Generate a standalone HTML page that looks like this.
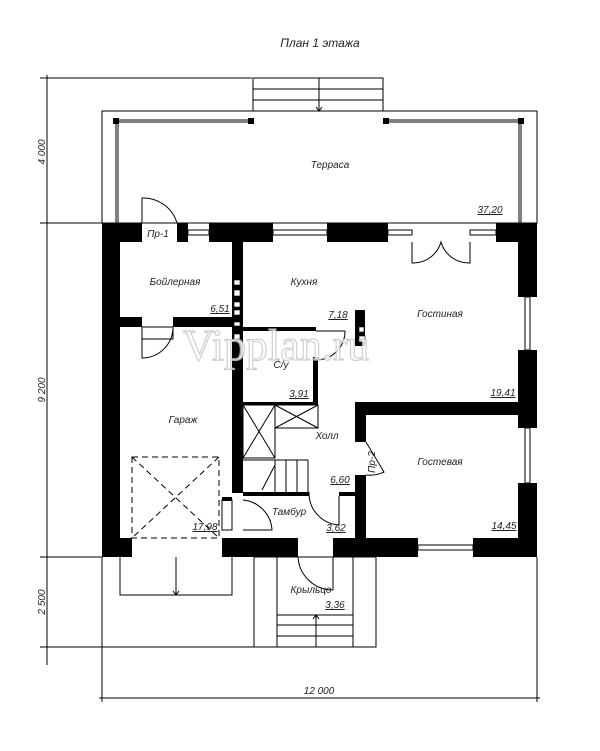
<!DOCTYPE html>
<html><head><meta charset="utf-8"><style>
html,body{margin:0;padding:0;background:#fff}
svg{display:block}
text{font-family:"Liberation Sans",sans-serif;font-style:italic;font-size:10px;fill:#222}
</style></head><body>
<svg width="600" height="751" viewBox="0 0 600 751" xmlns="http://www.w3.org/2000/svg">
<text x="320" y="47" text-anchor="middle" style="font-size:12px">План 1 этажа</text>
<g stroke="#000" stroke-width="1" fill="none">
<line x1="47" y1="75" x2="47" y2="665"/>
<line x1="40" y1="78" x2="252" y2="78"/>
<line x1="40" y1="223" x2="102" y2="223"/>
<line x1="40" y1="557" x2="102" y2="557"/>
<line x1="40" y1="647" x2="254" y2="647"/>
<line x1="99" y1="698" x2="540" y2="698"/>
<line x1="102" y1="557" x2="102" y2="702"/>
<line x1="537" y1="557" x2="537" y2="702"/>
<line x1="102" y1="111" x2="102" y2="223"/>
<line x1="537" y1="111" x2="537" y2="223"/>
</g>
<text transform="translate(45,152) rotate(-90)" text-anchor="middle">4 000</text>
<text transform="translate(45,390) rotate(-90)" text-anchor="middle">9 200</text>
<text transform="translate(45,602) rotate(-90)" text-anchor="middle">2 500</text>
<text x="319" y="694" text-anchor="middle">12 000</text>
<g stroke="#000" stroke-width="1" fill="none">
<rect x="102" y="111" width="435" height="112"/>
<rect x="253" y="78" width="130" height="33"/>
<line x1="253" y1="89" x2="383" y2="89"/><line x1="253" y1="100" x2="383" y2="100"/>
<line x1="319" y1="78" x2="319" y2="111"/>
<polyline points="316,107 319,111 322,107"/>
<line x1="116" y1="120" x2="251" y2="120"/><line x1="116" y1="122" x2="251" y2="122"/>
<line x1="386" y1="120" x2="521" y2="120"/><line x1="386" y1="122" x2="521" y2="122"/>
<line x1="116" y1="120" x2="116" y2="223"/><line x1="118" y1="120" x2="118" y2="223"/>
<line x1="521" y1="120" x2="521" y2="223"/><line x1="519" y1="120" x2="519" y2="223"/>
</g>
<g fill="#000">
<rect x="113" y="118" width="6" height="6"/><rect x="248" y="118" width="6" height="6"/>
<rect x="383" y="118" width="6" height="6"/><rect x="518" y="118" width="6" height="6"/>
</g>
<text x="330" y="168" text-anchor="middle">Терраса</text>
<text x="490" y="213" text-anchor="middle" text-decoration="underline">37,20</text>
<g fill="#000">
<rect x="102" y="223" width="40" height="19"/>
<rect x="177" y="223" width="11" height="19"/>
<rect x="209" y="223" width="64" height="19"/>
<rect x="327" y="223" width="61" height="19"/>
<rect x="496" y="223" width="41" height="19"/>
<rect x="102" y="223" width="18" height="334"/>
<rect x="518" y="223" width="19" height="74"/>
<rect x="518" y="350" width="19" height="78"/>
<rect x="518" y="483" width="19" height="74"/>
<rect x="102" y="538" width="30" height="19"/>
<rect x="222" y="538" width="76" height="19"/>
<rect x="333" y="538" width="85" height="19"/>
<rect x="473" y="538" width="64" height="19"/>
<rect x="232" y="242" width="11" height="251"/>
<rect x="222" y="497" width="10" height="4"/>
<rect x="120" y="317" width="22" height="10"/>
<rect x="173" y="317" width="59" height="10"/>
<rect x="243" y="327" width="73" height="4"/>
<rect x="313" y="357" width="5" height="48"/>
<rect x="243" y="402" width="75" height="3"/>
<rect x="355" y="402" width="163" height="13"/>
<rect x="355" y="402" width="11" height="40"/>
<rect x="355" y="475" width="11" height="63"/>
<rect x="243" y="492" width="66" height="4"/>
<rect x="339" y="492" width="16" height="4"/>
<rect x="355" y="310" width="10" height="36"/>
</g>
<g stroke="#000" stroke-width="1" fill="none">
<rect x="188" y="230" width="21" height="5"/>
<rect x="273" y="230" width="54" height="5"/>
<rect x="388" y="230" width="24" height="5"/>
<rect x="470" y="230" width="26" height="5"/>
<rect x="525" y="297" width="5" height="53"/>
<rect x="525" y="428" width="5" height="55"/>
<rect x="418" y="545" width="55" height="5"/>
<path d="M142,223 L142,198 A35,35 0 0 1 177,223"/>
<path d="M412,242 L412,263 A29,29 0 0 0 441,242 A29,29 0 0 0 470,263 L470,242"/>
<path d="M316,331 L345,331 A29,29 0 0 1 316,360"/>
<path d="M142,327 L142,358 A31,31 0 0 0 173,327"/>
<rect x="142" y="327" width="31" height="12"/>
<path d="M366,442 L384,472 A33,33 0 0 1 366,475"/>
<path d="M232,500 L232,530 L222,530 L222,500 Z"/>
<path d="M243,500 A32,32 0 0 1 272,530 L243,530"/>
<path d="M309,492 A32,32 0 0 0 339,525 L339,496"/>
<path d="M298,557 A35,35 0 0 0 333,590 L333,557"/>
<rect x="243" y="405" width="32" height="53"/>
<line x1="243" y1="405" x2="275" y2="458"/><line x1="275" y1="405" x2="243" y2="458"/>
<rect x="275" y="405" width="43" height="23"/>
<line x1="275" y1="405" x2="318" y2="428"/><line x1="318" y1="405" x2="275" y2="428"/>
<line x1="243" y1="460" x2="308" y2="460"/>
<line x1="275" y1="460" x2="275" y2="492"/><line x1="286" y1="460" x2="286" y2="492"/>
<line x1="297" y1="460" x2="297" y2="492"/><line x1="308" y1="460" x2="308" y2="492"/>
<line x1="262" y1="490" x2="275" y2="465"/>
<rect x="132" y="457" width="87" height="81" stroke-dasharray="6,4"/>
<line x1="132" y1="457" x2="219" y2="538" stroke-dasharray="6,4"/>
<line x1="219" y1="457" x2="132" y2="538" stroke-dasharray="6,4"/>
<polyline points="120,557 120,595 232,595 232,557"/>
<line x1="176" y1="557" x2="176" y2="595"/>
<polyline points="173,591 176,595 179,591"/>
<rect x="254" y="557" width="122" height="90"/>
<rect x="254" y="557" width="23" height="90"/>
<rect x="353" y="557" width="23" height="90"/>
<line x1="277" y1="615" x2="353" y2="615"/><line x1="277" y1="625" x2="353" y2="625"/><line x1="277" y1="636" x2="353" y2="636"/>
<line x1="316" y1="615" x2="316" y2="647"/>
<polyline points="313,619 316,615 319,619"/>
</g>
<g fill="#fff" stroke="#000" stroke-width="0.6">
<rect x="234" y="280" width="6" height="5"/><rect x="234" y="290" width="6" height="6"/>
<rect x="234" y="302" width="6" height="5"/><rect x="234" y="310" width="6" height="5"/>
<rect x="234" y="322" width="6" height="4"/><rect x="234" y="334" width="6" height="5"/>
<rect x="359" y="327" width="5" height="5"/><rect x="359" y="336" width="6" height="6"/>
</g>
<text x="276" y="360" text-anchor="middle" style="font-family:'Liberation Serif',serif;font-style:normal;font-size:44px;fill:#ffffff;stroke:#c8c8c8;stroke-width:1.2;opacity:0.85">Vipplan.ru</text>
<text x="175" y="285" text-anchor="middle">Бойлерная</text>
<text x="304" y="285" text-anchor="middle">Кухня</text>
<text x="440" y="317" text-anchor="middle">Гостиная</text>
<text x="281" y="368" text-anchor="middle">С/у</text>
<text x="183" y="423" text-anchor="middle">Гараж</text>
<text x="327" y="439" text-anchor="middle">Холл</text>
<text x="440" y="465" text-anchor="middle">Гостевая</text>
<text x="289" y="515" text-anchor="middle">Тамбур</text>
<text x="311" y="593" text-anchor="middle">Крыльцо</text>
<text x="158" y="237" text-anchor="middle">Пр-1</text>
<text transform="translate(375,462) rotate(-90)" text-anchor="middle">Пр-2</text>
<text x="220" y="312" text-anchor="middle" text-decoration="underline">6,51</text>
<text x="338" y="318" text-anchor="middle" text-decoration="underline">7,18</text>
<text x="299" y="397" text-anchor="middle" text-decoration="underline">3,91</text>
<text x="503" y="396" text-anchor="middle" text-decoration="underline">19,41</text>
<text x="340" y="483" text-anchor="middle" text-decoration="underline">6,60</text>
<text x="504" y="529" text-anchor="middle" text-decoration="underline">14,45</text>
<text x="205" y="530" text-anchor="middle" text-decoration="underline">17,98</text>
<text x="336" y="531" text-anchor="middle" text-decoration="underline">3,62</text>
<text x="335" y="608" text-anchor="middle" text-decoration="underline">3,36</text>
</svg>
</body></html>
